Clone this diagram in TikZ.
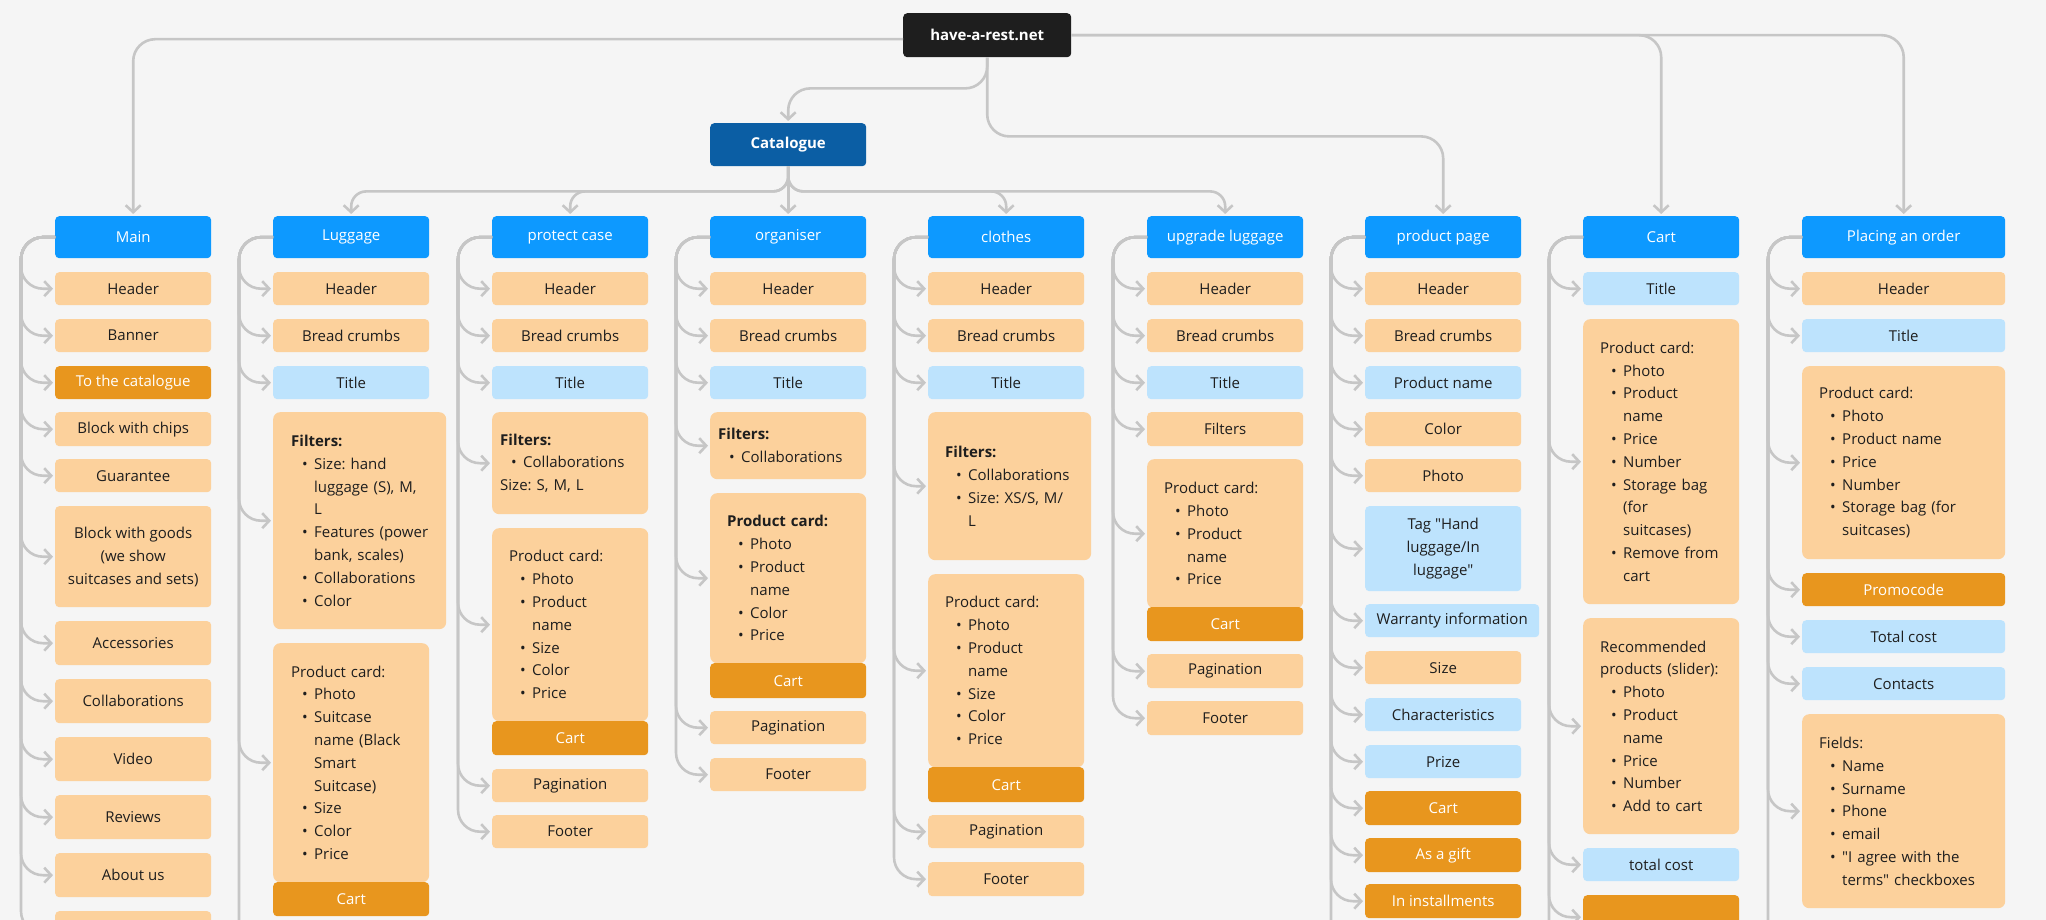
\documentclass[tikz,border=0pt]{standalone}
\usepackage{fontspec}
\setmainfont{Open Sans}[Ligatures=TeXOff]
\usetikzlibrary{arrows.meta}
\frenchspacing
\definecolor{bgc}{HTML}{F5F5F5}
\definecolor{rootc}{HTML}{1E1E1E}
\definecolor{catc}{HTML}{0B5EA4}
\definecolor{pagec}{HTML}{0D99FF}
\definecolor{itemc}{HTML}{FCD19C}
\definecolor{ttlc}{HTML}{BDE3FD}
\definecolor{btnc}{HTML}{E8961E}
\definecolor{connc}{HTML}{C6C6C6}
\definecolor{ink}{HTML}{1E1E1E}
\newcommand\fs{\fontsize{15}{22.8}\selectfont}
\newcommand\bx[7]{\node[#1, minimum width=#5pt, minimum height=#6pt, anchor=north west] (#2) at (#3,#4) {#7};}
\newcommand\cd[8]{\pgfmathsetmacro\cdtw{#5-2*#7}\node[card, inner xsep=#7pt, text width=\cdtw pt, minimum height=#6pt, anchor=north west, #1] (#2) at (#3,#4) {#8};}
\newcommand\bi[1]{\hspace*{11pt}\makebox[12pt][l]{•}\mbox{#1}}
\newcommand\ci[1]{\hspace*{23pt}\mbox{#1}}
\tikzset{
  base/.style={rounded corners=4pt, inner sep=0pt, font=\fs\frenchspacing, text=ink, align=center},
  root/.style={base, fill=rootc, text=white, font=\fs\bfseries},
  cat/.style={base, fill=catc, text=white, font=\fs\bfseries},
  page/.style={base, fill=pagec, text=white},
  item/.style={base, fill=itemc},
  ttl/.style={base, fill=ttlc},
  btn/.style={base, fill=btnc, text=white},
  card/.style={base, fill=itemc, rounded corners=7pt, align=left, inner ysep=0pt},
  conn/.style={draw=connc, line width=2.6pt, rounded corners=22pt, -{Straight Barb[length=7pt,width=15pt]}, shorten >=2pt},
  trunk/.style={draw=connc, line width=2.6pt, rounded corners=22pt},
}
\begin{document}
\begin{tikzpicture}[x=1pt,y=-1pt]
\fill[bgc] (0,0) rectangle (2046,920);
\useasboundingbox (0,0) rectangle (2046,920);
\clip (0,0) rectangle (2046,920);

% top
\bx{root}{hr}{903}{13}{168}{44}{have-a-rest.net}
\bx{cat}{cat}{710}{123}{156}{43}{Catalogue}

% page headers
\bx{page}{main}{55}{216}{156}{42}{Main}
\bx{page}{lug}{273}{216}{156}{42}{Luggage}
\bx{page}{pc}{492}{216}{156}{42}{protect case}
\bx{page}{org}{710}{216}{156}{42}{organiser}
\bx{page}{clo}{928}{216}{156}{42}{clothes}
\bx{page}{upg}{1147}{216}{156}{42}{upgrade luggage}
\bx{page}{pp}{1365}{216}{156}{42}{product page}
\bx{page}{cart}{1583}{216}{156}{42}{Cart}
\bx{page}{ord}{1802}{216}{203}{42}{Placing an order}

% Main
\bx{item}{m1}{55}{272}{156}{33}{Header}
\bx{item}{m2}{55}{319}{156}{33}{Banner}
\bx{btn}{m3}{55}{366}{156}{33}{To the catalogue}
\bx{item}{m4}{55}{412}{156}{34}{Block with chips}
\bx{item}{m5}{55}{459}{156}{33}{Guarantee}
\bx{item}{m6}{55}{506}{156}{101}{Block with goods\\(we show\\suitcases and sets)}
\bx{item}{m7}{55}{621}{156}{44}{Accessories}
\bx{item}{m8}{55}{679}{156}{44}{Collaborations}
\bx{item}{m9}{55}{737}{156}{44}{Video}
\bx{item}{m10}{55}{795}{156}{44}{Reviews}
\bx{item}{m11}{55}{853}{156}{44}{About us}
\bx{item}{m12}{55}{911}{156}{44}{}

% Luggage
\bx{item}{l1}{273}{272}{156}{33}{Header}
\bx{item}{l2}{273}{319}{156}{33}{Bread crumbs}
\bx{ttl}{l3}{273}{366}{156}{33}{Title}
\cd{}{l4}{273}{412}{173}{217}{18}{\mbox{\textbf{Filters:}}\\\bi{Size: hand}\\\ci{luggage (S), M,}\\\ci{L}\\\bi{Features (power}\\\ci{bank, scales)}\\\bi{Collaborations}\\\bi{Color}}
\cd{}{l5}{273}{643}{156}{239}{18}{\mbox{Product card:}\\\bi{Photo}\\\bi{Suitcase}\\\ci{name (Black}\\\ci{Smart}\\\ci{Suitcase)}\\\bi{Size}\\\bi{Color}\\\bi{Price}}
\bx{btn}{l5c}{273}{882}{156}{34}{Cart}

% protect case
\bx{item}{p1}{492}{272}{156}{33}{Header}
\bx{item}{p2}{492}{319}{156}{33}{Bread crumbs}
\bx{ttl}{p3}{492}{366}{156}{33}{Title}
\cd{}{p4}{492}{412}{156}{102}{8}{\mbox{\textbf{Filters:}}\\\bi{Collaborations}\\\mbox{Size: S, M, L}}
\cd{}{p5}{492}{528}{156}{193}{17}{\mbox{Product card:}\\\bi{Photo}\\\bi{Product}\\\ci{name}\\\bi{Size}\\\bi{Color}\\\bi{Price}}
\bx{btn}{p5c}{492}{721}{156}{34}{Cart}
\bx{item}{p6}{492}{769}{156}{33}{Pagination}
\bx{item}{p7}{492}{815}{156}{33}{Footer}

% organiser
\bx{item}{o1}{710}{272}{156}{33}{Header}
\bx{item}{o2}{710}{319}{156}{33}{Bread crumbs}
\bx{ttl}{o3}{710}{366}{156}{33}{Title}
\cd{}{o4}{710}{412}{156}{67}{8}{\mbox{\textbf{Filters:}}\\\bi{Collaborations}}
\cd{}{o5}{710}{493}{156}{170}{17}{\mbox{\textbf{Product card:}}\\\bi{Photo}\\\bi{Product}\\\ci{name}\\\bi{Color}\\\bi{Price}}
\bx{btn}{o5c}{710}{663}{156}{35}{Cart}
\bx{item}{o6}{710}{711}{156}{33}{Pagination}
\bx{item}{o7}{710}{758}{156}{33}{Footer}

% clothes
\bx{item}{c1}{928}{272}{156}{33}{Header}
\bx{item}{c2}{928}{319}{156}{33}{Bread crumbs}
\bx{ttl}{c3}{928}{366}{156}{33}{Title}
\cd{}{c4}{928}{412}{163}{148}{17}{\mbox{\textbf{Filters:}}\\\bi{Collaborations}\\\bi{Size: XS/S, M/}\\\ci{L}}
\cd{}{c5}{928}{574}{156}{193}{17}{\mbox{Product card:}\\\bi{Photo}\\\bi{Product}\\\ci{name}\\\bi{Size}\\\bi{Color}\\\bi{Price}}
\bx{btn}{c5c}{928}{767}{156}{35}{Cart}
\bx{item}{c6}{928}{815}{156}{33}{Pagination}
\bx{item}{c7}{928}{862}{156}{34}{Footer}

% upgrade luggage
\bx{item}{u1}{1147}{272}{156}{33}{Header}
\bx{item}{u2}{1147}{319}{156}{33}{Bread crumbs}
\bx{ttl}{u3}{1147}{366}{156}{33}{Title}
\bx{item}{u4}{1147}{412}{156}{34}{Filters}
\cd{}{u5}{1147}{459}{156}{149}{17}{\mbox{Product card:}\\\bi{Photo}\\\bi{Product}\\\ci{name}\\\bi{Price}}
\bx{btn}{u5c}{1147}{607}{156}{34}{Cart}
\bx{item}{u6}{1147}{654}{156}{34}{Pagination}
\bx{item}{u7}{1147}{701}{156}{34}{Footer}

% product page
\bx{item}{q1}{1365}{272}{156}{33}{Header}
\bx{item}{q2}{1365}{319}{156}{33}{Bread crumbs}
\bx{ttl}{q3}{1365}{366}{156}{33}{Product name}
\bx{item}{q4}{1365}{412}{156}{34}{Color}
\bx{item}{q5}{1365}{459}{156}{33}{Photo}
\bx{ttl}{q6}{1365}{506}{156}{85}{Tag "Hand\\luggage/In\\luggage"}
\bx{ttl}{q7}{1365}{604}{174}{33}{Warranty information}
\bx{item}{q8}{1365}{651}{156}{33}{Size}
\bx{ttl}{q9}{1365}{698}{156}{33}{Characteristics}
\bx{ttl}{q10}{1365}{745}{156}{33}{Prize}
\bx{btn}{q11}{1365}{791}{156}{34}{Cart}
\bx{btn}{q12}{1365}{838}{156}{34}{As a gift}
\bx{btn}{q13}{1365}{884}{156}{34}{In installments}

% Cart
\bx{ttl}{k1}{1583}{272}{156}{33}{Title}
\cd{}{k2}{1583}{319}{156}{285}{17}{\mbox{Product card:}\\\bi{Photo}\\\bi{Product}\\\ci{name}\\\bi{Price}\\\bi{Number}\\\bi{Storage bag}\\\ci{(for}\\\ci{suitcases)}\\\bi{Remove from}\\\ci{cart}}
\cd{}{k3}{1583}{618}{156}{216}{17}{\mbox{Recommended}\\\mbox{products (slider):}\\\bi{Photo}\\\bi{Product}\\\ci{name}\\\bi{Price}\\\bi{Number}\\\bi{Add to cart}}
\bx{ttl}{k4}{1583}{848}{156}{33}{total cost}
\bx{btn}{k5}{1583}{895}{156}{44}{}

% Placing an order
\bx{item}{r1}{1802}{272}{203}{33}{Header}
\bx{ttl}{r2}{1802}{319}{203}{33}{Title}
\cd{}{r3}{1802}{366}{203}{193}{17}{\mbox{Product card:}\\\bi{Photo}\\\bi{Product name}\\\bi{Price}\\\bi{Number}\\\bi{Storage bag (for}\\\ci{suitcases)}}
\bx{btn}{r4}{1802}{573}{203}{33}{Promocode}
\bx{ttl}{r5}{1802}{620}{203}{33}{Total cost}
\bx{ttl}{r6}{1802}{667}{203}{33}{Contacts}
\cd{}{r7}{1802}{714}{203}{194}{17}{\mbox{Fields:}\\\bi{Name}\\\bi{Surname}\\\bi{Phone}\\\bi{email}\\\bi{"I agree with the}\\\ci{terms" checkboxes}}

% free trunk ends below the picture
\coordinate (lugEnd) at (239,960);
\coordinate (ppEnd) at (1331,960);
\coordinate (cartEnd) at (1549,960);
\coordinate (ordEnd) at (1768,960);

% top-level connectors
\draw[conn] ([yshift=-4pt]hr.west) -| (main.north);
\draw[conn] (hr.east) -| (cart.north);
\draw[conn] (hr.east) -| (ord.north);
\draw[conn] (hr.south) -- ++(0,31) -| (cat.north);
\draw[conn] (hr.south) -- ++(0,79) -| (pp.north);
\foreach \t in {lug,pc,clo,upg}
  \draw[conn, rounded corners=15pt] (cat.south) -- ++(0,25) -| (\t.north);
\draw[conn] (cat.south) -- (org.north);

% column connectors
\foreach \c in {m1,m2,m3,m4,m5,m6,m7,m8,m9,m10,m11,m12}
  \draw[conn] (main.west) -- ++(-34,0) |- (\c.west);
\foreach \c in {l1,l2,l3,l4,l5}
  \draw[conn] (lug.west) -- ++(-34,0) |- (\c.west);
\draw[trunk] (lug.west) -- ++(-34,0) -- (lugEnd);
\foreach \c in {p1,p2,p3,p4,p5,p6,p7}
  \draw[conn] (pc.west) -- ++(-34,0) |- (\c.west);
\foreach \c in {o1,o2,o3,o4,o5,o6,o7}
  \draw[conn] (org.west) -- ++(-34,0) |- (\c.west);
\foreach \c in {c1,c2,c3,c4,c5,c6,c7}
  \draw[conn] (clo.west) -- ++(-34,0) |- (\c.west);
\foreach \c in {u1,u2,u3,u4,u5,u6,u7}
  \draw[conn] (upg.west) -- ++(-34,0) |- (\c.west);
\foreach \c in {q1,q2,q3,q4,q5,q6,q7,q8,q9,q10,q11,q12,q13}
  \draw[conn] (pp.west) -- ++(-34,0) |- (\c.west);
\draw[trunk] (pp.west) -- ++(-34,0) -- (ppEnd);
\foreach \c in {k1,k2,k3,k4,k5}
  \draw[conn] (cart.west) -- ++(-34,0) |- (\c.west);
\draw[trunk] (cart.west) -- ++(-34,0) -- (cartEnd);
\foreach \c in {r1,r2,r3,r4,r5,r6,r7}
  \draw[conn] (ord.west) -- ++(-34,0) |- (\c.west);
\draw[trunk] (ord.west) -- ++(-34,0) -- (ordEnd);
\end{tikzpicture}
\end{document}
